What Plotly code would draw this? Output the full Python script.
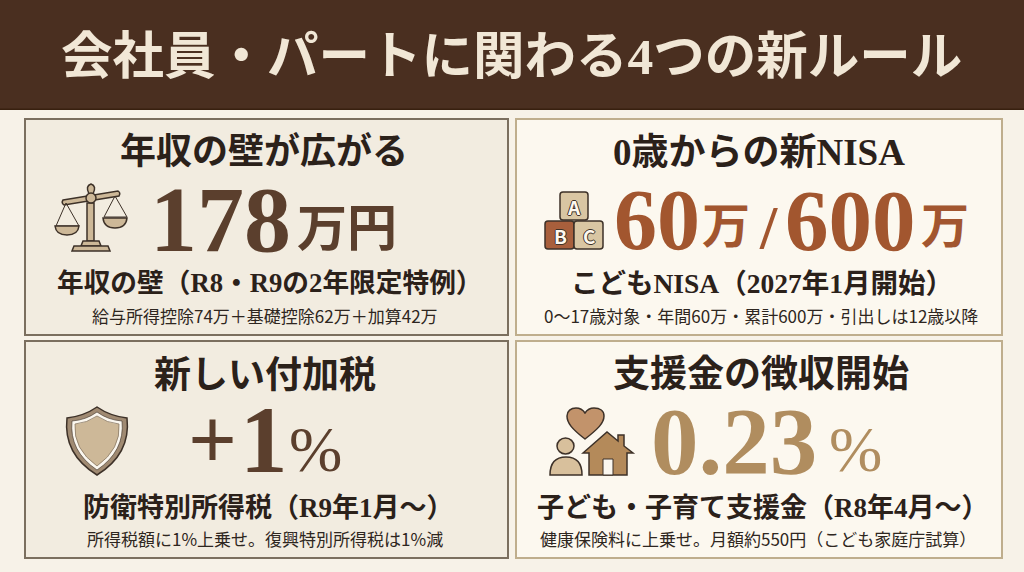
import plotly.graph_objects as go

SERIF = "Liberation Serif, Noto Sans CJK JP, serif"
SANS = "Noto Sans CJK JP, sans-serif"

title_text = "会社員・パートに関わる4つの新ルール"
headings = ["年収の壁が広がる", "0歳からの新NISA", "新しい付加税", "支援金の徴収開始"]
captions = [
    "年収の壁（R8・R9の2年限定特例）",
    "こどもNISA（2027年1月開始）",
    "防衛特別所得税（R9年1月～）",
    "子ども・子育て支援金（R8年4月～）",
]
notes = [
    "給与所得控除74万＋基礎控除62万＋加算42万",
    "0～17歳対象・年間60万・累計600万・引出しは12歳以降",
    "所得税額に1%上乗せ。復興特別所得税は1%減",
    "健康保険料に上乗せ。月額約550円（こども家庭庁試算）",
]

DARK = "#4a2f20"
INK = "#2b211a"
BROWN = "#5b3f2d"
RUST = "#a2562f"
GOLD = "#b08d5f"
LINE = "#3d3128"
TAN = "#cdb898"
TAN2 = "#d9c6a3"

fig = go.Figure()
shapes = []
annots = []


def add_text(x, y, s, size, color=INK, anchor="center", family=SERIF, weight=700, shadow=None):
    font = dict(family=family, size=size, color=color, weight=weight)
    if shadow:
        font["shadow"] = shadow
    annots.append(dict(x=x, y=y, text=s, showarrow=False, xanchor=anchor, yanchor="middle", font=font))


def rect(x0, y0, x1, y1, fill, line=None, w=1):
    shapes.append(dict(type="rect", x0=x0, y0=y0, x1=x1, y1=y1, fillcolor=fill,
                       line=dict(color=line or fill, width=w if line else 0)))


def path(d, fill="rgba(0,0,0,0)", line=LINE, w=1.5):
    shapes.append(dict(type="path", path=d, fillcolor=fill, line=dict(color=line, width=w)))


def block(x0, y0, x1, y1, fill):
    r = 3
    path(f"M{x0+r} {y0} L{x1-r} {y0} Q{x1} {y0} {x1} {y0+r} L{x1} {y1-r} Q{x1} {y1} {x1-r} {y1} "
         f"L{x0+r} {y1} Q{x0} {y1} {x0} {y1-r} L{x0} {y0+r} Q{x0} {y0} {x0+r} {y0} Z", fill)


# background and header
rect(0, 0, 1024, 572, "#f7f2e8")
rect(0, 0, 1024, 110, DARK)
rect(0, 108.5, 1024, 110, "#38200f")
add_text(511, 56, title_text, 51.5, "#f1e7d6")

# panels
rect(25, 119, 508, 335, "#f2ece0", "#7b6f5f", 2)
rect(516, 119, 1002, 335, "#fcf8ef", "#bfae8d", 2)
rect(25, 341, 508, 558, "#f2ece0", "#7b6f5f", 2)
rect(516, 341, 1002, 558, "#fcf8ef", "#bfae8d", 2)

head_xy = [(264, 152), (759, 152), (265, 375), (761, 374)]
head_sizes = [36, 37, 37, 37]
cap_xy = [(270, 283), (762, 283), (268, 508), (763, 508)]
cap_sizes = [26.7, 27.5, 27, 27]
note_xy = [(265, 315), (761, 315), (265, 538), (758, 538)]
note_sizes = [17, 17, 17, 17]
for i in range(4):
    add_text(head_xy[i][0], head_xy[i][1], headings[i], head_sizes[i])
    add_text(cap_xy[i][0], cap_xy[i][1], captions[i], cap_sizes[i])
    add_text(note_xy[i][0], note_xy[i][1], notes[i], note_sizes[i], "#2e2620", family=SANS, weight=400)

# big numbers
add_text(148, 219, "178", 94, BROWN, "left")
add_text(295, 229, "万円", 50, BROWN, "left")

add_text(612, 220, "60", 86, RUST, "left")
add_text(700, 226, "万", 48, RUST, "left")
add_text(757, 227, "/", 62, RUST, "left")
add_text(783, 220, "600", 87, RUST, "left")
add_text(919, 226, "万", 48, RUST, "left")

add_text(186, 440, "+", 86, BROWN, "left")
add_text(238, 440, "1", 95, BROWN, "left")
add_text(287, 449, "%", 64, BROWN, "left", weight=400)

add_text(649, 442, "0.23", 95, GOLD, "left")
add_text(827, 449, "%", 64, GOLD, "left", weight=400)

# scales icon
path("M63 200 L118 191 Q121 193 119 196 L64 205 Q61 203 63 200 Z", TAN)
path("M87 203 L87 241 L94 241 L94 203 Z", TAN)
path("M89 194 Q85 186 91 184 Q97 186 93 194 Z", TAN)
shapes.append(dict(type="circle", x0=86, y0=193, x1=96, y1=203, fillcolor=TAN, line=dict(color=LINE, width=1.5)))
path("M83 241 L99 241 L101 246 L81 246 Z", TAN)
path("M74 246 L108 246 L110 251 L72 251 Z", TAN)
path("M66 203 L56 226 L79 226 Z", w=1)
path("M115 196 L104 217 L127 217 Z", w=1)
path("M55 226 L79 226 Q78 235 67 235 Q56 235 55 226 Z", TAN)
path("M103 218 L127 218 Q126 228 115 228 Q104 228 103 218 Z", TAN)

# blocks icon
block(560, 192, 588, 220, TAN2)
block(545, 221, 574, 249, "#a85f3c")
block(574, 221, 603, 249, TAN2)
outline = "-1px 0 #3d3128, 1px 0 #3d3128, 0 -1px #3d3128, 0 1px #3d3128"
add_text(574, 206, "A", 19, "#fdf8ef", family=SANS, shadow=outline)
add_text(560, 235, "B", 19, "#fdf8ef", family=SANS, shadow=outline)
add_text(589, 235, "C", 19, "#fdf8ef", family=SANS, shadow=outline)

# shield icon
path("M97 407 Q84 416 67 418 Q63 454 97 475 Q131 454 127 418 Q110 416 97 407 Z", "#a08a72")
path("M97 412 Q86 420 72 421 Q69 451 97 470 Q125 451 122 421 Q108 420 97 412 Z", "#fbf7ef", "#3d3128", 0.6)
path("M97 416 Q87 423 75 424 Q73 449 97 466 Q121 449 119 424 Q107 423 97 416 Z", TAN, "#8a7a66", 0.8)

# heart, person, house icon
path("M585 439 C572 429 567 423 567 416 C567 411 571 408 576 408 C580 408 583 410 585 413 "
     "C587 410 590 408 594 408 C600 408 604 411 604 416 C604 423 598 429 585 439 Z", "#c2936b")
shapes.append(dict(type="circle", x0=557, y0=438, x1=574, y1=454, fillcolor="#d8c09c", line=dict(color=LINE, width=1.5)))
path("M550 475 Q550 457 566 457 Q582 457 582 475 Z", "#d8c09c")
path("M583 453 L607 432 L618 441 L618 435 L624 435 L624 446 L633 453 L627 453 L627 475 L589 475 L589 453 Z", "#b48a5a")
rect(603, 459, 613, 475, "#fbf7ef", LINE, 1)

fig.update_layout(
    width=1024, height=572, margin=dict(l=0, r=0, t=0, b=0),
    paper_bgcolor="#f7f2e8", plot_bgcolor="#f7f2e8",
    xaxis=dict(range=[0, 1024], visible=False, fixedrange=True),
    yaxis=dict(range=[572, 0], visible=False, fixedrange=True),
    shapes=shapes, annotations=annots, showlegend=False,
)

fig.write_html("out.html", config=dict(displayModeBar=False), post_script="document.body.style.margin='0';")
